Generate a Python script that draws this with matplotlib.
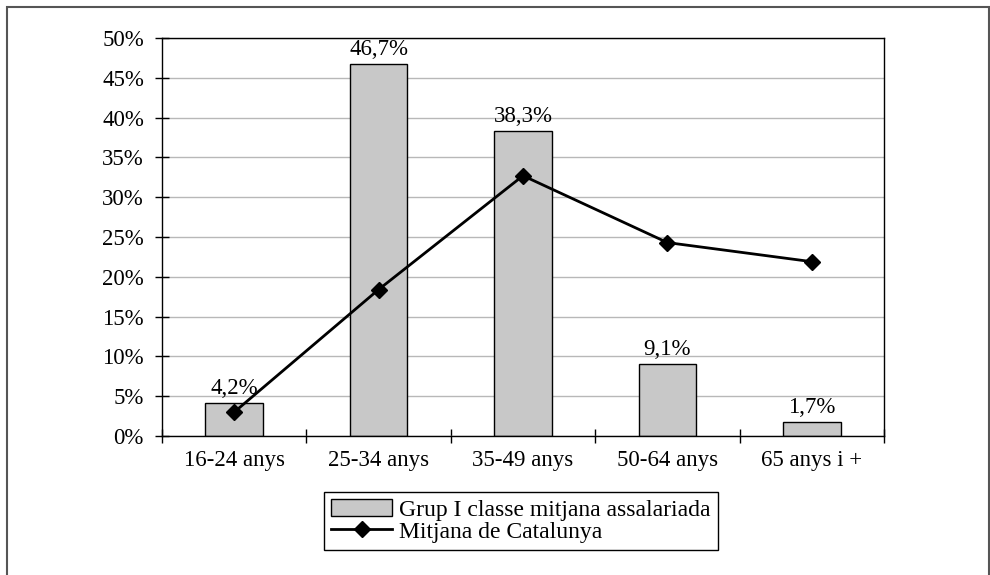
import matplotlib.pyplot as plt
from matplotlib.patches import Rectangle
from matplotlib.ticker import FixedLocator, NullFormatter

plt.rcParams['font.family'] = ['Liberation Serif', 'DejaVu Serif']

categories = ['16-24 anys', '25-34 anys', '35-49 anys', '50-64 anys', '65 anys i +']
grup_i = [4.2, 46.7, 38.3, 9.1, 1.7]
mitjana_cat = [3.0, 18.4, 32.7, 24.3, 21.9]
yticks = [0, 5, 10, 15, 20, 25, 30, 35, 40, 45, 50]

fs = 16.5

fig = plt.figure(figsize=(9.9, 5.75), dpi=100)
ax = fig.add_axes([162 / 990, 1 - 436 / 575, (884 - 162) / 990, (436 - 38) / 575])

x = list(range(len(categories)))
bars = ax.bar(x, grup_i, width=0.4, color='#c8c8c8', edgecolor='black', linewidth=1,
              label='Grup I classe mitjana assalariada', zorder=2)
line, = ax.plot(x, mitjana_cat, color='black', linewidth=2, marker='D', markersize=8,
                label='Mitjana de Catalunya', zorder=3)

for xi, v in zip(x, grup_i):
    ax.text(xi, v + 0.5, f'{v:.1f}%'.replace('.', ','), ha='center', va='bottom', fontsize=fs)

ax.set_xlim(-0.5, len(categories) - 0.5)
ax.set_ylim(0, 50)
ax.set_yticks(yticks)
ax.set_yticklabels([f'{t}%' for t in yticks], fontsize=fs)
ax.yaxis.grid(True, color='#b8b8b8', linewidth=1, zorder=0)
ax.set_axisbelow(True)

ax.set_xticks(x)
ax.set_xticklabels(categories, fontsize=fs)
ax.tick_params(axis='x', which='major', length=0, pad=10)
ax.xaxis.set_minor_locator(FixedLocator([i - 0.5 for i in range(len(categories) + 1)]))
ax.xaxis.set_minor_formatter(NullFormatter())
ax.tick_params(axis='x', which='minor', direction='inout', length=10, width=1)
ax.tick_params(axis='y', direction='inout', length=10, width=1, pad=8)

for s in ax.spines.values():
    s.set_color('black')
    s.set_linewidth(1)

fig.legend([bars, line], ['Grup I classe mitjana assalariada', 'Mitjana de Catalunya'],
           loc='center', bbox_to_anchor=(521 / 990, 1 - 521 / 575), fontsize=17,
           frameon=True, fancybox=False, edgecolor='black', framealpha=1,
           handlelength=2.6, handletextpad=0.3, borderpad=0.3, labelspacing=0.0)

fig.patches.append(Rectangle((7 / 990, -0.1), (989 - 7) / 990, 1.1 - 7 / 575,
                             transform=fig.transFigure, fill=False,
                             edgecolor='#555555', linewidth=1.5))

fig.savefig('out.png', dpi=100)
